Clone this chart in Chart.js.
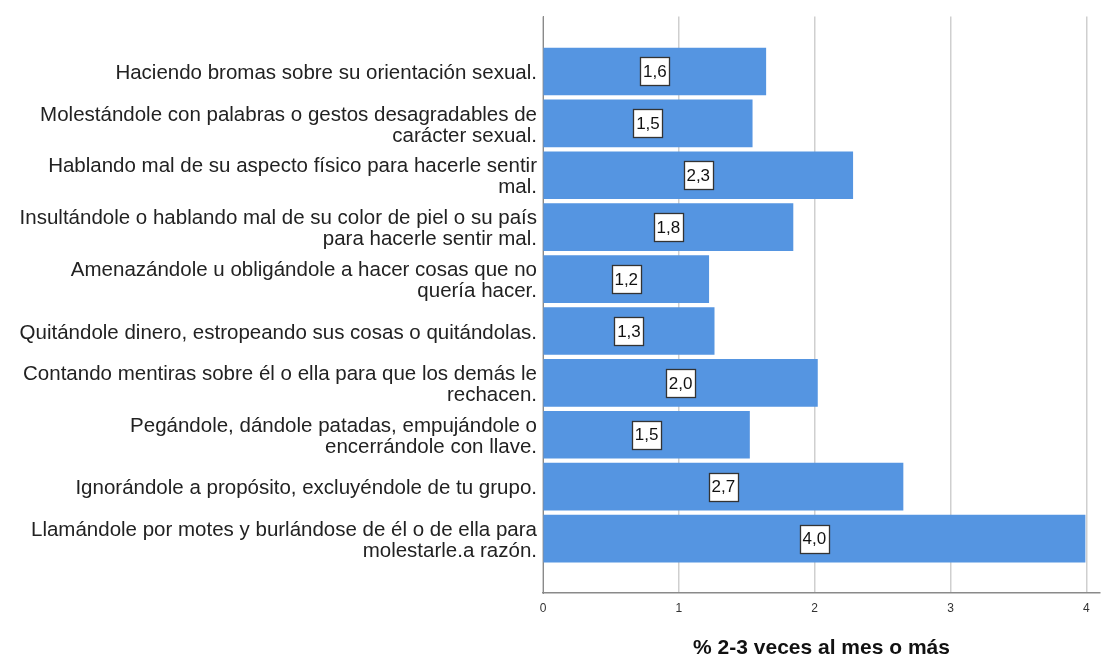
<!DOCTYPE html>
<html>
<head>
<meta charset="utf-8">
<script src="https://cdn.jsdelivr.net/npm/chart.js@4"></script>
<style>
html,body{margin:0;padding:0;background:#fff;}
#wrap{width:1103px;height:657px;position:relative;}
</style>
</head>
<body>
<div id="wrap"><canvas id="c" width="1103" height="657"></canvas></div>
<script>
const categories = [
  "Haciendo bromas sobre su orientación sexual.",
  ["Molestándole con palabras o gestos desagradables de", "carácter sexual."],
  ["Hablando mal de su aspecto físico para hacerle sentir", "mal."],
  ["Insultándole o hablando mal de su color de piel o su país", "para hacerle sentir mal."],
  ["Amenazándole u obligándole a hacer cosas que no", "quería hacer."],
  "Quitándole dinero, estropeando sus cosas o quitándolas.",
  ["Contando mentiras sobre él o ella para que los demás le", "rechacen."],
  ["Pegándole, dándole patadas, empujándole o", "encerrándole con llave."],
  "Ignorándole a propósito, excluyéndole de tu grupo.",
  ["Llamándole por motes y burlándose de él o de ella para", "molestarle.a razón."]
];
const values = [1.64, 1.54, 2.28, 1.84, 1.22, 1.26, 2.02, 1.52, 2.65, 3.99];
const valueLabels = ["1,6", "1,5", "2,3", "1,8", "1,2", "1,3", "2,0", "1,5", "2,7", "4,0"];
const xTicks = [0, 1, 2, 3, 4];
const axisTitle = "% 2-3 veces al mes o más";

const FONT = "'Liberation Sans', Arial, sans-serif";

const boxLabels = {
  id: 'boxLabels',
  afterDatasetsDraw(chart) {
    const ctx = chart.ctx;
    const meta = chart.getDatasetMeta(0);
    ctx.save();
    ctx.font = "17px " + FONT;
    ctx.textAlign = 'center';
    ctx.textBaseline = 'middle';
    meta.data.forEach((el, i) => {
      const cx = (el.x + el.base) / 2;
      const cy = el.y;
      const t = valueLabels[i];
      const w = Math.round(ctx.measureText(t).width) + 5;
      const h = 28;
      const x0 = Math.round(cx - w / 2) + 0.5;
      const y0 = Math.round(cy - h / 2) + 0.5;
      ctx.fillStyle = '#ffffff';
      ctx.fillRect(x0, y0, w, h);
      ctx.strokeStyle = '#333333';
      ctx.lineWidth = 1.3;
      ctx.strokeRect(x0, y0, w, h);
      ctx.fillStyle = '#111111';
      ctx.fillText(t, cx, cy + 1);
    });
    ctx.restore();
  }
};

new Chart(document.getElementById('c'), {
  type: 'bar',
  data: {
    datasets: [{
      data: values.map((v, i) => ({x: v, y: i})),
      backgroundColor: '#5595e1',
      borderWidth: 0,
      barThickness: 47
    }]
  },
  options: {
    indexAxis: 'y',
    responsive: false,
    animation: false,
    events: [],
    layout: { padding: { top: 16, right: 3, left: 0, bottom: 0 } },
    plugins: { legend: { display: false }, tooltip: { enabled: false } },
    scales: {
      y: {
        type: 'linear',
        reverse: true,
        offset: false,
        min: -1.059,
        max: 10.049,
        afterFit(s) { s.width = 543; },
        grid: { display: false, drawTicks: false, offset: false },
        border: { display: true, color: '#8a8a8a', width: 1 },
        ticks: {
          stepSize: 1,
          includeBounds: false,
          autoSkip: false,
          maxTicksLimit: 30,
          padding: 6,
          labelOffset: 2,
          color: '#222222',
          font: { family: FONT, size: 20.5, lineHeight: '21px' },
          callback: (v) => (Number.isInteger(v) && categories[v] !== undefined) ? categories[v] : ''
        }
      },
      x: {
        type: 'linear',
        min: 0,
        max: 4.1,
        afterFit(s) { s.height = 64; },
        afterBuildTicks(s) { s.ticks = xTicks.map(v => ({value: v})); },
        grid: { color: '#cfcfcf', lineWidth: 1.5, drawTicks: false },
        border: { display: true, color: '#8a8a8a', width: 1.5 },
        ticks: {
          padding: 8,
          color: '#333333',
          font: { family: FONT, size: 12 },
          callback: (v) => String(v)
        },
        title: {
          display: true,
          text: axisTitle,
          color: '#111111',
          font: { family: FONT, size: 21, weight: 'bold', lineHeight: 1 },
          padding: { top: 0, bottom: -2 }
        }
      }
    }
  },
  plugins: [boxLabels]
});
</script>
</body>
</html>
